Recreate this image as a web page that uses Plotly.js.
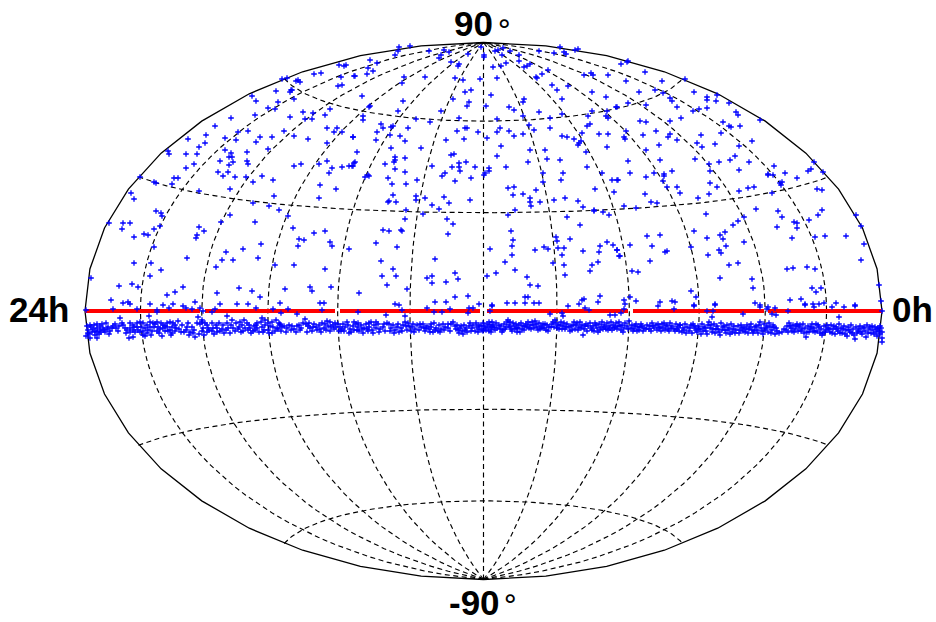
<!DOCTYPE html>
<html><head><meta charset="utf-8">
<script src="https://cdn.plot.ly/plotly-3.0.1.min.js"></script>
<style>html,body{margin:0;padding:0;background:#fff}</style>
</head><body><div id="chart" style="width:936px;height:622px"></div>
<script>
// Source positions, in projected sky-plane units (centre of the map = 0,0).
const skyNorthWest=[[-145,246],[-138,246],[-140,245],[-202,232],[-197,233],[-170,237],[-163,238],[-143,234],[-130,235],[-188,230],[-186,231],[-184,229],[-146,225],[-142,226],[-208,220],[-193,221],[-192,221],[-194,219],[-190,212],[-232,215],[-228,210],[-206,209],[-216,203],[-209,202],[-229,196],[-253,193],[-194,194],[-181,199],[-171,198],[-154,202],[-159,196],[-179,192],[-172,192],[-269,185],[-246,179],[-236,180],[-200,180],[-157,183],[-147,183],[-150,179],[-142,179],[-278,176],[-296,172],[-259,173],[-248,171],[-224,174],[-212,174],[-190,175],[-176,172],[-131,174],[-228,169],[-157,168],[-279,168],[-285,164],[-316,160],[-315,157],[-298,157],[-287,157],[-259,161],[-237,159],[-216,162],[-253,158],[-255,154],[-252,154],[-264,150],[-251,149],[-237,150],[-236,147],[-255,146],[-290,147],[-298,143],[-190,145],[-183,147],[-165,147],[-157,150],[-152,143],[-142,144],[-135,145],[-132,145],[-130,148],[-266,139],[-256,139],[-155,138]];
const skyNorthMid=[[-85,264],[-74,265],[-86,260],[-89,256],[-55,260],[-40,261],[-35,259],[-43,256],[-45,253],[-16,257],[-3,264],[0,256],[0,254],[11,260],[14,261],[19,263],[18,256],[26,260],[22,248],[35,256],[35,250],[55,260],[70,258],[76,264],[80,259],[82,257],[91,261],[94,262],[-114,251],[-107,248],[-116,243],[-111,240],[-117,237],[-129,235],[-33,249],[-25,247],[-26,245],[9,244],[17,245],[40,244],[43,245],[46,247],[64,241],[58,237],[52,234],[53,233],[100,236],[107,238],[109,236],[124,236],[-80,234],[-59,234],[-82,228],[-29,233],[-21,231],[-4,232],[13,233],[68,226],[84,225],[73,221],[-13,221],[-19,219],[108,219],[-122,215],[7,216],[122,214],[-31,212],[-81,210],[-15,209],[-17,205],[78,212],[40,212],[39,209],[2,205],[-114,205],[-115,204],[25,204],[30,201],[133,204],[-86,200],[-43,200],[55,199],[108,200],[104,195],[123,200],[122,195],[124,193],[78,197],[-121,195],[-121,191],[-68,192],[-25,193],[13,192],[39,195],[66,193],[-54,189],[-103,187],[-101,183],[-93,184],[-91,185],[45,186],[66,183],[106,187],[103,185],[-76,183],[-107,179],[-27,180],[-19,183],[-17,183],[-6,179],[16,183],[13,179],[25,180],[50,181],[-94,176],[-84,175],[-131,174],[30,175],[39,177],[78,175],[83,174],[90,172],[98,178],[115,177],[124,177],[-108,171],[-79,170],[-38,171],[-20,172],[3,173],[97,170],[95,168],[94,166],[17,165],[-93,163],[-63,163],[123,164],[-127,159],[46,161],[61,161],[102,159],[-33,156],[-30,157],[13,155],[-89,154],[-89,151],[-79,153],[63,152],[76,151],[44,149],[-129,149],[-90,149],[-99,147],[-18,149],[-25,148],[-131,145],[-89,142],[-52,145],[-32,144],[-25,144],[-24,140],[-9,144],[5,143],[5,140],[22,144],[103,144],[-79,139],[-39,138],[1,138],[59,138],[79,138],[118,138],[-116,136]];
const skyNorthEast=[[144,250],[137,247],[143,249],[161,239],[142,230],[178,230],[201,232],[171,221],[155,219],[179,218],[210,219],[233,216],[186,213],[188,210],[223,214],[223,211],[232,210],[245,208],[144,208],[162,206],[132,204],[193,204],[215,202],[223,203],[209,200],[252,199],[254,196],[197,193],[276,191],[156,190],[162,189],[186,190],[239,189],[256,185],[245,185],[247,184],[142,180],[172,180],[186,177],[184,174],[237,178],[159,176],[217,176],[140,174],[141,172],[193,171],[268,170],[213,168],[231,167],[175,166],[218,164],[255,165],[162,161],[251,155],[176,151],[211,152],[246,151],[144,150],[235,149],[265,149],[330,149],[225,147],[290,145],[188,140],[226,140],[255,141],[327,142],[324,140],[339,139],[301,138],[146,138],[170,138],[180,137],[284,137]];
const skyLowWest=[[-261,135],[-249,134],[-238,134],[-222,135],[-211,131],[-310,133],[-306,133],[-344,134],[-330,129],[-328,128],[-312,127],[-231,129],[-164,126],[-254,122],[-285,120],[-148,122],[-210,115],[-353,118],[-350,112],[-165,113],[-231,108],[-215,105],[-205,101],[-328,100],[-323,98],[-322,95],[-254,96],[-196,95],[-375,88],[-361,88],[-354,88],[-362,82],[-263,89],[-229,89],[-285,84],[-324,85],[-330,82],[-191,83],[-280,80],[-340,77],[-336,76],[-287,76],[-288,73],[-350,74],[-170,78],[-159,80],[-185,72],[-180,71],[-154,69],[-152,65],[-330,64],[-186,65],[-223,67],[-241,62],[-135,62],[-258,59],[-297,53],[-226,53],[-262,51],[-251,51],[-350,48],[-333,48],[-209,46],[-190,46],[-268,44],[-323,41],[-159,42],[-334,35],[-393,33],[-365,25],[-352,27],[-346,24],[-301,24],[-245,23],[-232,20],[-199,22],[-174,24],[-172,20],[-153,24],[-309,19],[-317,16],[-267,18],[-224,14],[-373,11],[-361,8],[-356,9],[-354,7],[-334,7],[-311,7],[-289,9],[-264,7],[-247,7],[-236,7],[-204,8],[-164,8],[-160,8],[-321,6]];
const skyLowMid=[[-119,134],[-115,135],[-96,133],[-92,127],[-78,127],[-67,131],[-42,135],[-29,130],[-13,133],[0,136],[24,123],[30,124],[59,129],[77,131],[128,131],[133,131],[111,122],[52,121],[130,119],[29,116],[39,117],[-91,116],[-68,115],[-68,111],[-59,113],[-40,114],[46,113],[81,113],[-95,110],[-96,109],[-88,109],[-35,108],[-14,111],[46,109],[56,109],[70,111],[94,110],[-52,106],[47,105],[99,104],[-45,102],[-78,101],[31,101],[110,101],[110,100],[119,99],[125,96],[-61,97],[24,96],[-79,92],[-37,92],[83,94],[-31,87],[96,86],[-101,81],[-95,80],[-83,81],[-82,80],[27,80],[-36,77],[72,74],[86,72],[73,70],[29,71],[-108,68],[28,65],[123,69],[129,66],[-87,64],[116,65],[60,64],[64,62],[74,63],[80,63],[6,62],[51,61],[99,60],[115,59],[133,61],[28,56],[78,56],[135,55],[-49,52],[-103,50],[21,49],[69,48],[80,46],[114,49],[108,46],[-91,42],[31,41],[106,40],[-29,38],[12,38],[-102,35],[-88,35],[3,35],[81,36],[-52,35],[-57,33],[-26,32],[43,34],[-52,28],[-38,29],[-97,26],[46,26],[54,25],[-77,22],[-125,18],[-29,14],[-16,15],[41,14],[44,14],[100,12],[98,11],[116,15],[-49,9],[-38,9],[-5,7],[23,8],[31,8],[41,8],[50,8],[55,8],[95,7],[114,9],[-89,7],[-85,6],[8,6]];
const skyLowEast=[[134,131],[162,134],[180,135],[179,130],[183,124],[193,124],[196,118],[161,117],[226,128],[233,124],[225,117],[255,120],[264,123],[270,124],[284,136],[289,136],[313,133],[296,128],[298,129],[297,126],[333,122],[338,121],[288,118],[214,113],[167,109],[173,108],[140,105],[152,103],[272,102],[222,97],[294,100],[338,101],[334,96],[372,96],[298,94],[260,94],[254,90],[249,86],[325,91],[310,89],[313,88],[377,85],[293,84],[313,83],[210,80],[241,79],[236,76],[163,75],[176,76],[223,73],[239,72],[260,69],[308,73],[331,74],[341,75],[362,75],[380,67],[146,66],[168,65],[242,65],[207,64],[133,61],[136,55],[181,59],[183,60],[235,61],[237,58],[224,56],[166,50],[377,51],[254,48],[245,46],[323,44],[303,42],[309,43],[331,42],[148,40],[154,39],[236,33],[268,32],[269,23],[395,26],[328,23],[337,23],[332,19],[207,20],[212,14],[146,14],[140,11],[152,10],[176,9],[188,10],[191,9],[306,11],[317,12],[271,8],[397,10],[352,8],[329,7],[335,7],[340,8],[231,7],[141,7],[210,6],[321,7],[276,6],[371,6]];
const nearLine=[[-398,1],[-371,2],[-347,2],[-327,1],[-327,-1],[-315,3],[-301,5],[-298,3],[-292,2],[-284,3],[-281,0],[-269,2],[-272,-1],[-228,3],[-211,2],[-335,-5],[-364,-7],[-286,-6],[-257,-5],[-252,-9],[-282,-9],[-306,-10],[-203,-2],[-196,2],[-187,-3],[-162,1],[-126,-1],[-98,-4],[-82,1],[-79,-5],[-57,3],[-50,-1],[-42,-1],[-34,2],[-15,3],[-11,3],[-16,-2],[8,5],[6,0],[84,5],[101,3],[105,1],[140,2],[137,-2],[174,5],[190,2],[66,-3],[78,-2],[79,-5],[126,-4],[131,-4],[210,5],[223,0],[231,6],[229,0],[228,-6],[259,-3],[276,4],[284,4],[291,3],[283,2],[288,-3],[292,-4],[304,0],[321,6],[330,4],[348,4],[360,4],[371,5],[398,0],[355,-6]];
const bandWest=[[-397,-15],[-394,-14],[-390,-14],[-387,-13],[-384,-15],[-378,-12],[-396,-19],[-391,-18],[-387,-17],[-384,-19],[-381,-17],[-376,-16],[-372,-17],[-369,-13],[-368,-17],[-398,-25],[-395,-23],[-392,-21],[-387,-21],[-383,-21],[-379,-21],[-374,-20],[-394,-27],[-387,-27],[-393,-16],[-389,-20],[-385,-23],[-380,-19],[-377,-18],[-371,-15],[-365,-15],[-361,-14],[-359,-17],[-354,-12],[-351,-14],[-347,-12],[-344,-11],[-341,-12],[-337,-14],[-334,-11],[-331,-12],[-327,-11],[-323,-12],[-321,-14],[-317,-12],[-314,-11],[-311,-12],[-354,-17],[-351,-19],[-347,-16],[-343,-16],[-339,-17],[-334,-16],[-330,-16],[-326,-16],[-321,-17],[-317,-16],[-312,-16],[-309,-14],[-354,-21],[-349,-21],[-341,-20],[-332,-20],[-327,-20],[-319,-20],[-314,-19],[-309,-20],[-322,-25],[-312,-22],[-339,-25],[-341,-24],[-355,-27],[-351,-26],[-357,-19],[-346,-19],[-336,-19],[-324,-18],[-316,-20],[-300,-21],[-296,-12],[-297,-16],[-298,-19],[-294,-21],[-291,-22],[-289,-26],[-292,-16],[-287,-12],[-284,-13],[-282,-11],[-279,-12],[-277,-14],[-281,-17],[-276,-17],[-272,-12],[-282,-20],[-277,-21],[-272,-20],[-267,-17],[-267,-21],[-271,-17],[-265,-12],[-260,-22],[-257,-12],[-261,-14],[-256,-17],[-251,-17],[-244,-11],[-240,-9],[-237,-12],[-245,-16],[-239,-17],[-234,-17],[-230,-15],[-227,-12],[-223,-11],[-222,-7],[-219,-9],[-216,-12],[-212,-11],[-208,-9],[-205,-12],[-236,-19],[-231,-20],[-227,-17],[-222,-16],[-219,-14],[-216,-19],[-211,-16],[-207,-17],[-225,-21],[-221,-21],[-212,-22],[-206,-18],[-204,-14],[-248,-12],[-253,-14],[-243,-21],[-249,-20],[-302,-14],[-305,-18],[-262,-18],[-268,-14],[-235,-14],[-242,-14],[-229,-19],[-214,-15]];
const bandMidW=[[-204,-13],[-202,-16],[-200,-15],[-197,-17],[-195,-14],[-192,-15],[-190,-18],[-187,-15],[-185,-14],[-181,-12],[-179,-8],[-178,-13],[-176,-15],[-174,-17],[-172,-20],[-175,-12],[-170,-13],[-168,-16],[-167,-19],[-165,-14],[-162,-12],[-160,-17],[-159,-13],[-157,-10],[-156,-15],[-154,-11],[-153,-16],[-151,-14],[-149,-12],[-148,-16],[-146,-13],[-144,-16],[-142,-18],[-141,-13],[-139,-16],[-137,-11],[-136,-14],[-134,-18],[-133,-21],[-131,-15],[-130,-19],[-128,-13],[-126,-16],[-125,-20],[-123,-14],[-121,-22],[-120,-17],[-118,-13],[-116,-20],[-115,-16],[-113,-11],[-112,-19],[-110,-14],[-108,-17],[-106,-13],[-104,-18],[-108,-11],[-115,-12],[-130,-11],[-97,-12],[-95,-13],[-93,-17],[-91,-14],[-89,-19],[-87,-16],[-85,-21],[-83,-17],[-81,-14],[-79,-11],[-77,-19],[-75,-15],[-73,-20],[-71,-13],[-69,-18],[-67,-14],[-65,-19],[-63,-16],[-61,-13],[-59,-20],[-57,-15],[-55,-18],[-53,-13],[-51,-21],[-48,-17],[-45,-14],[-43,-18],[-41,-13],[-39,-16],[-53,-16],[-60,-17],[-72,-16],[-76,-12],[-50,-12],[-36,-17],[-33,-13],[-31,-11],[-29,-15],[-27,-14],[-36,-13],[-46,-20],[-26,-19],[-25,-22],[-24,-17],[-23,-15],[-22,-20],[-21,-23],[-20,-14],[-18,-17],[-17,-21],[-15,-15],[-14,-12],[-12,-17],[-11,-14],[-9,-20],[-7,-16],[-8,-12],[-5,-18],[-5,-14],[-3,-15],[-2,-19],[-101,-16],[-99,-20],[-126,-12],[-143,-20],[-164,-18],[-184,-19],[-154,-20],[-117,-18]];
const bandMidE=[[-1,-12],[0,-15],[1,-17],[3,-13],[4,-16],[5,-20],[6,-14],[7,-18],[8,-11],[9,-14],[10,-16],[7,-21],[12,-12],[13,-17],[16,-18],[17,-15],[19,-19],[20,-13],[22,-16],[23,-11],[24,-9],[25,-14],[26,-11],[27,-18],[29,-12],[30,-15],[31,-18],[32,-13],[34,-17],[35,-14],[36,-21],[37,-12],[39,-15],[40,-19],[42,-13],[43,-16],[44,-11],[46,-14],[47,-18],[48,-11],[49,-14],[51,-10],[52,-13],[53,-16],[55,-12],[57,-15],[59,-13],[60,-17],[62,-19],[63,-14],[65,-16],[68,-13],[69,-11],[71,-9],[72,-12],[74,-14],[75,-18],[77,-11],[79,-15],[80,-12],[81,-18],[83,-13],[85,-16],[87,-15],[88,-19],[90,-11],[92,-14],[93,-12],[95,-16],[96,-11],[98,-14],[99,-24],[100,-18],[102,-13],[104,-15],[106,-12],[108,-19],[109,-15],[111,-12],[113,-17],[115,-13],[117,-16],[118,-11],[120,-14],[122,-18],[123,-12],[125,-15],[127,-11],[129,-14],[130,-17],[132,-12],[134,-15],[135,-11],[137,-19],[138,-14],[139,-21],[141,-12],[143,-15],[145,-10],[148,-14],[150,-18],[152,-13],[154,-16],[155,-19],[157,-13],[160,-17],[163,-14],[166,-15],[168,-12],[170,-17],[172,-14],[174,-13],[176,-16],[178,-13],[180,-12],[182,-15],[184,-18],[186,-12],[188,-15],[190,-18],[192,-13],[194,-16],[196,-14],[114,-21],[158,-15],[33,-21],[70,-16],[91,-18],[5,-11],[56,-18]];
const bandEast=[[196,-14],[199,-17],[201,-13],[203,-16],[205,-20],[207,-14],[209,-13],[211,-17],[214,-15],[213,-21],[216,-18],[218,-13],[220,-16],[222,-20],[224,-14],[225,-11],[226,-17],[228,-21],[230,-13],[232,-18],[233,-15],[235,-21],[237,-12],[239,-16],[241,-19],[243,-14],[245,-17],[247,-13],[249,-18],[251,-22],[254,-15],[256,-19],[258,-17],[260,-16],[261,-21],[263,-14],[265,-18],[267,-13],[269,-22],[271,-16],[273,-19],[275,-14],[276,-11],[278,-20],[280,-13],[282,-17],[284,-21],[285,-12],[286,-16],[288,-19],[289,-14],[291,-23],[293,-20],[295,-22],[302,-19],[303,-15],[305,-12],[307,-17],[309,-14],[311,-18],[313,-13],[315,-16],[317,-20],[319,-13],[321,-17],[322,-26],[323,-21],[324,-15],[326,-18],[328,-13],[330,-17],[332,-13],[333,-20],[335,-16],[337,-18],[338,-24],[339,-22],[340,-15],[342,-19],[344,-17],[346,-21],[347,-14],[349,-18],[351,-23],[352,-16],[354,-20],[355,-13],[357,-17],[358,-22],[360,-15],[362,-19],[363,-25],[364,-16],[366,-21],[367,-14],[369,-18],[370,-24],[371,-28],[372,-16],[374,-20],[376,-15],[378,-23],[379,-17],[381,-20],[382,-26],[383,-14],[385,-18],[387,-22],[388,-15],[389,-19],[391,-16],[392,-21],[393,-25],[394,-17],[395,-20],[396,-23],[397,-17],[398,-27],[398,-21],[398,-31],[212,-19],[248,-21],[310,-21],[290,-16],[329,-20]];
const bandDense=[[-396,-22],[-389,-24],[-382,-13],[-375,-23],[-366,-20],[-362,-12],[-358,-22],[-350,-16],[-344,-21],[-337,-22],[-333,-24],[-329,-13],[-325,-22],[-319,-15],[-313,-24],[-308,-17],[-303,-21],[-295,-24],[-290,-19],[-285,-23],[-280,-24],[-275,-19],[-270,-23],[-264,-20],[-258,-19],[-254,-22],[-246,-18],[-241,-20],[-233,-22],[-228,-14],[-220,-19],[-215,-22],[-209,-20],[-203,-20],[-198,-21],[-193,-19],[-188,-21],[-183,-17],[-177,-21],[-171,-16],[-163,-21],[-158,-19],[-150,-18],[-145,-20],[-140,-20],[-135,-22],[-127,-19],[-122,-18],[-111,-22],[-105,-21],[-100,-13],[-94,-20],[-90,-22],[-86,-13],[-82,-20],[-78,-15],[-70,-21],[-64,-13],[-58,-17],[-54,-21],[-49,-19],[-44,-21],[-40,-19],[-34,-20],[-28,-18],[-19,-19],[-13,-20],[-6,-21],[-1,-20],[2,-19],[8,-16],[11,-19],[15,-14],[18,-21],[21,-18],[26,-16],[28,-20],[33,-17],[38,-18],[41,-15],[45,-17],[50,-17],[54,-19],[58,-17],[61,-13],[64,-20],[67,-16],[73,-17],[76,-14],[78,-18],[82,-16],[86,-20],[89,-14],[94,-19],[97,-17],[101,-15],[103,-20],[107,-17],[110,-20],[112,-14],[116,-19],[119,-18],[121,-16],[124,-19],[126,-17],[128,-19],[131,-16],[133,-18],[136,-15],[140,-17],[144,-18],[147,-17],[149,-20],[151,-15],[153,-20],[156,-16],[159,-20],[162,-18],[165,-18],[167,-20],[169,-15],[173,-19],[175,-17],[177,-20],[179,-17],[181,-19],[183,-14],[185,-20],[187,-17],[191,-20],[193,-18],[195,-20],[198,-21],[200,-19],[202,-22],[206,-17],[208,-22],[210,-15],[215,-18],[217,-23],[219,-20],[221,-17],[223,-23],[227,-14],[229,-18],[231,-22],[234,-18],[236,-24],[238,-19],[240,-15],[242,-22],[244,-19],[246,-23],[250,-15],[252,-19],[255,-22],[257,-14],[259,-20],[262,-18],[264,-22],[266,-16],[268,-19],[270,-20],[272,-15],[274,-22],[277,-17],[279,-23],[281,-19],[283,-15],[287,-22],[292,-17],[298,-21],[300,-18],[304,-21],[306,-15],[308,-20],[312,-15],[314,-20],[316,-14],[318,-18],[320,-22],[325,-21],[327,-16],[331,-21],[334,-14],[336,-22],[341,-21],[343,-14],[345,-18],[348,-22],[350,-15],[353,-18],[356,-22],[359,-18],[361,-23],[365,-19],[368,-22],[373,-22],[375,-18],[377,-21],[380,-16],[384,-22],[386,-16],[390,-23],[393,-18],[396,-15]];
// Red line ends in plane units; the line stops at each 60-degree meridian.
const lineX=[-399,-284,null,-279,-149,null,-144,-4,null,3,144,null,149,280,null,284,398];
const lineY=[0,0,null,0,0,null,0,0,null,0,0,null,0,0,null,0,0];
const parallels=[-60,-30,30,60];
const meridians=[-150,-120,-90,-60,-30,0,30,60,90,120,150];
const tickTexts=["90","-90","24h","0h","°"];
const A=398.5,B=268.5;
function hammer(lon,lat){const l=lon*Math.PI/360,p=lat*Math.PI/180,z=Math.sqrt(1+Math.cos(p)*Math.cos(l));
  return [A*Math.cos(p)*Math.sin(l)/z-0.5, B*Math.sin(p)/z];}
function range(a,b,s){const r=[];for(let v=a;s>0?v<=b:v>=b;v+=s)r.push(v);return r;}
const gridX=[],gridY=[];
function add(pts){pts.forEach(p=>{const q=hammer(p[0],p[1]);gridX.push(q[0]);gridY.push(q[1]);});gridX.push(null);gridY.push(null);}
parallels.forEach(la=>add(range(-180,180,5).map(lo=>[lo,la])));
meridians.forEach(lo=>add(range(-90,90,3).map(la=>[lo,la])));
const bx=[],by=[];
range(-90,90,9).forEach(la=>{const q=hammer(-180,la);bx.push(q[0]);by.push(q[1]);});
range(81,-90,-9).forEach(la=>{const q=hammer(180,la);bx.push(q[0]);by.push(q[1]);});
const pts=[].concat(skyNorthWest,skyNorthMid,skyNorthEast,skyLowWest,skyLowMid,skyLowEast,nearLine,bandWest,bandMidW,bandMidE,bandEast,bandDense);
const traces=[
 {type:'scatter',mode:'lines',x:gridX,y:gridY,line:{color:'#000',width:1.15,dash:'5px,3.5px'},hoverinfo:'skip'},
 {type:'scatter',mode:'lines',x:bx,y:by,line:{color:'#000',width:1.3},hoverinfo:'skip'},
 {type:'scatter',mode:'lines',x:lineX,y:lineY,line:{color:'#ff0000',width:4},hoverinfo:'skip'},
 {type:'scatter',mode:'markers',x:pts.map(p=>p[0]),y:pts.map(p=>p[1]),cliponaxis:false,
  marker:{symbol:'cross-thin',size:4,color:'#0000ff',opacity:1,line:{color:'#0000ff',width:1.3}},hoverinfo:'skip'}
];
const bold={family:'"Liberation Sans",Arial,sans-serif',size:35,color:'#000'};
const ring={family:'"DejaVu Sans",sans-serif',size:29,color:'#000'};
const ann=(x,y,t,f)=>({xref:'x',yref:'y',x:x,y:y,text:t,showarrow:false,font:f||bold,xanchor:'center',yanchor:'middle'});
const layout={width:936,height:622,margin:{l:0,r:0,t:0,b:0,pad:0},paper_bgcolor:'#fff',plot_bgcolor:'#fff',showlegend:false,
 xaxis:{range:[-484,452],visible:false,fixedrange:true},
 yaxis:{range:[-311,311],visible:false,fixedrange:true},
 annotations:[ann(-11,288,'<b>'+tickTexts[0]+'</b>'),ann(20,281,tickTexts[4],ring),ann(-10,-291,'<b>'+tickTexts[1]+'</b>'),ann(26,-294,tickTexts[4],ring),ann(-445,2,'<b>'+tickTexts[2]+'</b>'),ann(428,2,'<b>'+tickTexts[3]+'</b>')]};
Plotly.newPlot('chart',traces,layout,{displayModeBar:false,staticPlot:true});
</script></body></html>
